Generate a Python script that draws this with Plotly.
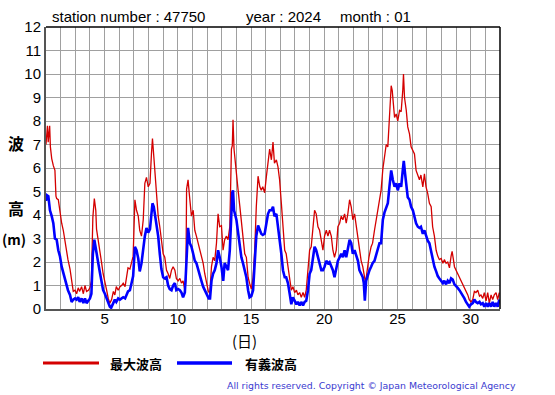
import plotly.graph_objects as go

# ---- data ----
max_days = [1.0, 1.05, 1.1, 1.15, 1.2, 1.25, 1.3, 1.39, 1.5, 1.61, 1.68, 1.73, 1.84, 1.95, 2.07, 2.18, 2.3, 2.4, 2.5, 2.64, 2.75, 2.86, 2.98, 3.09, 3.2, 3.3, 3.43, 3.55, 3.66, 3.77, 3.9, 4.0, 4.1, 4.2, 4.3, 4.4, 4.45, 4.57, 4.68, 4.8, 4.9, 5.0, 5.14, 5.25, 5.36, 5.48, 5.6, 5.7, 5.8, 5.93, 6.05, 6.16, 6.27, 6.4, 6.5, 6.6, 6.73, 6.84, 6.95, 7.07, 7.18, 7.3, 7.4, 7.52, 7.64, 7.75, 7.86, 7.98, 8.1, 8.2, 8.27, 8.36, 8.5, 8.66, 8.77, 8.88, 9.0, 9.11, 9.23, 9.34, 9.45, 9.57, 9.68, 9.8, 9.9, 10.02, 10.14, 10.25, 10.36, 10.48, 10.55, 10.6, 10.7, 10.8, 10.93, 11.05, 11.16, 11.27, 11.39, 11.5, 11.61, 11.73, 11.84, 11.95, 12.07, 12.18, 12.3, 12.41, 12.52, 12.64, 12.75, 12.86, 12.98, 13.09, 13.2, 13.32, 13.43, 13.55, 13.66, 13.72, 13.77, 13.84, 14.0, 14.11, 14.23, 14.34, 14.45, 14.57, 14.68, 14.8, 14.9, 15.02, 15.14, 15.25, 15.36, 15.48, 15.6, 15.7, 15.8, 15.93, 16.05, 16.16, 16.27, 16.39, 16.5, 16.6, 16.73, 16.84, 16.95, 17.07, 17.18, 17.3, 17.4, 17.52, 17.64, 17.75, 17.86, 17.98, 18.1, 18.2, 18.32, 18.43, 18.55, 18.66, 18.77, 18.89, 19.0, 19.11, 19.23, 19.34, 19.45, 19.57, 19.68, 19.8, 19.91, 20.02, 20.14, 20.25, 20.36, 20.48, 20.59, 20.7, 20.82, 20.93, 21.05, 21.16, 21.27, 21.39, 21.5, 21.61, 21.73, 21.84, 21.95, 22.07, 22.18, 22.3, 22.4, 22.52, 22.63, 22.75, 22.82, 22.9, 23.05, 23.2, 23.3, 23.43, 23.55, 23.66, 23.77, 23.88, 24.0, 24.11, 24.23, 24.34, 24.45, 24.57, 24.64, 24.73, 24.8, 24.91, 25.02, 25.14, 25.25, 25.36, 25.41, 25.48, 25.6, 25.7, 25.82, 25.93, 26.05, 26.16, 26.27, 26.39, 26.5, 26.6, 26.73, 26.84, 26.95, 27.07, 27.18, 27.3, 27.4, 27.52, 27.64, 27.75, 27.86, 27.98, 28.1, 28.2, 28.32, 28.43, 28.55, 28.66, 28.73, 28.82, 28.89, 29.0, 29.11, 29.23, 29.34, 29.45, 29.57, 29.68, 29.8, 29.9, 30.02, 30.14, 30.25, 30.36, 30.48, 30.6, 30.7, 30.82, 30.93, 31.05, 31.16, 31.27, 31.39, 31.5, 31.61, 31.73, 31.84, 31.95]
max_wave = [7.0, 7.6, 7.8, 7.1, 7.5, 7.8, 6.9, 6.4, 6.1, 5.9, 4.8, 4.7, 4.65, 4.1, 3.65, 3.35, 2.9, 2.4, 2.1, 1.7, 1.1, 0.75, 0.8, 0.65, 0.9, 0.75, 0.95, 0.65, 1.0, 0.75, 0.8, 0.9, 1.2, 3.9, 4.7, 4.2, 3.4, 2.95, 2.5, 1.95, 1.5, 1.25, 0.8, 0.45, 0.25, 0.4, 0.75, 0.6, 0.95, 0.8, 0.95, 1.0, 1.1, 0.95, 1.4, 1.75, 1.7, 1.95, 2.25, 4.65, 4.2, 3.95, 3.35, 3.1, 3.8, 5.35, 5.6, 5.2, 5.35, 6.6, 7.25, 6.5, 5.2, 3.95, 3.5, 3.0, 2.35, 2.2, 1.65, 1.5, 1.3, 1.65, 1.8, 1.65, 1.3, 1.2, 1.3, 1.1, 1.2, 0.8, 1.2, 5.1, 5.5, 4.8, 3.95, 4.2, 3.35, 3.1, 2.8, 2.5, 2.2, 1.95, 1.5, 1.1, 0.8, 0.65, 1.8, 2.2, 2.05, 2.8, 4.05, 3.5, 3.55, 2.5, 2.95, 3.1, 2.95, 3.5, 6.8, 6.95, 8.05, 6.8, 5.95, 5.1, 4.4, 3.8, 3.1, 2.35, 2.2, 1.35, 1.1, 0.85, 1.35, 2.5, 4.35, 5.65, 5.2, 5.05, 5.2, 4.95, 5.65, 6.35, 6.8, 6.35, 7.1, 6.2, 6.35, 6.05, 5.5, 4.5, 3.5, 2.5, 2.35, 1.8, 1.35, 0.8, 0.95, 0.7, 0.8, 0.6, 0.7, 0.5, 0.7, 0.5, 0.8, 1.65, 2.5, 2.65, 3.5, 4.2, 4.05, 3.5, 3.35, 2.8, 2.5, 3.1, 3.35, 3.1, 3.35, 3.1, 2.5, 2.2, 2.5, 3.5, 3.65, 3.95, 3.8, 4.05, 3.65, 4.05, 4.65, 4.35, 3.8, 4.05, 3.5, 2.95, 2.5, 2.05, 1.8, 1.35, 1.1, 1.5, 2.2, 2.65, 2.8, 3.35, 3.8, 4.35, 4.65, 5.05, 5.95, 6.45, 7.0, 6.9, 8.15, 9.5, 9.3, 8.45, 8.15, 8.3, 8.0, 8.45, 8.4, 9.3, 10.0, 9.0, 8.45, 7.75, 7.45, 6.9, 6.75, 6.6, 5.9, 5.7, 5.5, 5.7, 5.2, 5.75, 5.2, 4.9, 4.5, 4.35, 3.5, 3.1, 2.5, 2.25, 2.1, 2.15, 1.95, 2.1, 1.95, 2.0, 1.75, 2.25, 2.45, 2.1, 1.8, 1.65, 1.5, 1.4, 1.25, 1.1, 0.95, 0.8, 0.6, 0.4, 0.3, 0.4, 0.75, 0.7, 0.8, 0.55, 0.6, 0.45, 0.7, 0.35, 0.7, 0.25, 0.6, 0.4, 0.6, 0.7, 0.4, 0.7]

sig_days = [1.0, 1.05, 1.16, 1.27, 1.39, 1.5, 1.61, 1.73, 1.84, 1.95, 2.07, 2.18, 2.3, 2.4, 2.5, 2.64, 2.75, 2.86, 2.98, 3.09, 3.2, 3.3, 3.43, 3.55, 3.66, 3.77, 3.9, 4.0, 4.1, 4.2, 4.3, 4.4, 4.57, 4.68, 4.8, 4.9, 5.02, 5.14, 5.25, 5.36, 5.45, 5.6, 5.7, 5.8, 5.93, 6.05, 6.16, 6.27, 6.4, 6.5, 6.6, 6.73, 6.84, 6.95, 7.07, 7.18, 7.3, 7.4, 7.52, 7.64, 7.75, 7.86, 7.98, 8.1, 8.2, 8.27, 8.36, 8.5, 8.66, 8.77, 8.88, 9.0, 9.11, 9.23, 9.34, 9.45, 9.57, 9.68, 9.8, 9.9, 10.02, 10.14, 10.25, 10.36, 10.48, 10.55, 10.64, 10.7, 10.82, 10.93, 11.05, 11.16, 11.27, 11.39, 11.5, 11.61, 11.73, 11.84, 12.0, 12.11, 12.2, 12.3, 12.41, 12.52, 12.64, 12.75, 12.86, 12.98, 13.1, 13.2, 13.32, 13.43, 13.55, 13.66, 13.72, 13.77, 13.84, 14.0, 14.11, 14.23, 14.34, 14.45, 14.57, 14.68, 14.8, 14.9, 15.02, 15.14, 15.25, 15.36, 15.48, 15.6, 15.7, 15.8, 15.93, 16.05, 16.16, 16.27, 16.39, 16.5, 16.6, 16.73, 16.84, 16.95, 17.07, 17.18, 17.3, 17.4, 17.52, 17.64, 17.75, 17.86, 17.98, 18.1, 18.2, 18.32, 18.43, 18.55, 18.66, 18.77, 18.89, 19.0, 19.11, 19.23, 19.34, 19.45, 19.57, 19.68, 19.8, 19.91, 20.02, 20.14, 20.25, 20.36, 20.48, 20.59, 20.7, 20.82, 20.93, 21.05, 21.16, 21.27, 21.39, 21.5, 21.61, 21.73, 21.84, 21.95, 22.07, 22.2, 22.3, 22.4, 22.52, 22.63, 22.7, 22.77, 22.86, 22.98, 23.09, 23.2, 23.3, 23.43, 23.55, 23.66, 23.77, 23.88, 24.0, 24.11, 24.23, 24.34, 24.45, 24.57, 24.68, 24.8, 24.91, 25.02, 25.14, 25.25, 25.36, 25.43, 25.52, 25.6, 25.7, 25.82, 25.93, 26.05, 26.16, 26.27, 26.39, 26.5, 26.6, 26.73, 26.84, 26.95, 27.07, 27.18, 27.3, 27.4, 27.52, 27.64, 27.75, 27.86, 27.98, 28.1, 28.2, 28.32, 28.43, 28.55, 28.66, 28.77, 28.89, 29.0, 29.11, 29.23, 29.34, 29.45, 29.57, 29.68, 29.8, 29.9, 30.02, 30.14, 30.25, 30.36, 30.48, 30.6, 30.7, 30.82, 30.93, 31.05, 31.16, 31.27, 31.39, 31.5, 31.61, 31.73, 31.84, 31.95]
sig_wave = [4.6, 4.85, 4.8, 4.2, 3.95, 3.65, 3.0, 2.95, 2.5, 2.25, 1.8, 1.55, 1.25, 1.1, 0.8, 0.6, 0.3, 0.4, 0.45, 0.4, 0.5, 0.3, 0.45, 0.25, 0.45, 0.25, 0.4, 0.45, 0.65, 2.35, 2.95, 2.5, 1.95, 1.55, 1.2, 0.8, 0.65, 0.45, 0.25, 0.1, 0.05, 0.25, 0.4, 0.3, 0.45, 0.4, 0.45, 0.5, 0.45, 0.6, 0.75, 0.8, 1.1, 1.4, 2.65, 2.5, 2.15, 1.6, 1.95, 2.65, 3.1, 3.45, 3.25, 3.4, 4.2, 4.5, 4.35, 3.8, 3.1, 2.35, 1.7, 1.35, 1.3, 1.35, 1.0, 0.85, 0.8, 1.0, 1.1, 0.8, 0.85, 0.8, 0.7, 0.5, 0.7, 1.5, 3.2, 3.45, 2.8, 2.65, 2.35, 2.05, 1.95, 1.65, 1.5, 1.2, 0.95, 0.8, 0.6, 0.45, 0.45, 1.2, 1.5, 1.65, 1.95, 2.5, 2.2, 1.8, 1.2, 1.95, 1.8, 1.65, 2.5, 4.35, 4.95, 5.05, 4.2, 3.8, 3.2, 2.8, 2.2, 1.95, 1.65, 1.35, 0.8, 0.5, 0.55, 0.8, 1.95, 3.1, 3.55, 3.35, 3.2, 3.15, 3.2, 3.65, 4.05, 4.2, 4.2, 4.35, 3.95, 4.05, 3.5, 3.1, 2.35, 1.65, 1.35, 1.35, 1.1, 0.65, 0.2, 0.5, 0.35, 0.2, 0.3, 0.15, 0.3, 0.15, 0.3, 0.35, 0.8, 1.5, 1.65, 2.2, 2.65, 2.5, 2.2, 2.05, 1.65, 1.65, 1.8, 2.05, 1.95, 2.0, 1.8, 1.65, 1.35, 1.65, 2.05, 2.2, 2.35, 2.2, 2.5, 2.2, 2.5, 2.95, 2.8, 2.35, 2.5, 2.2, 2.05, 1.65, 1.5, 1.35, 1.1, 0.35, 1.2, 1.5, 1.65, 1.8, 1.95, 2.05, 2.35, 2.65, 2.8, 2.8, 3.8, 4.1, 4.35, 4.5, 5.2, 5.9, 5.5, 5.2, 5.35, 5.05, 5.35, 5.2, 5.9, 6.3, 5.75, 5.2, 4.75, 4.65, 4.35, 4.2, 3.9, 3.65, 3.5, 3.45, 3.5, 3.2, 3.35, 3.1, 2.9, 2.8, 2.4, 2.1, 1.8, 1.6, 1.4, 1.3, 1.2, 1.1, 1.2, 1.05, 1.2, 1.1, 1.3, 1.25, 1.05, 0.95, 0.9, 0.8, 0.7, 0.6, 0.45, 0.3, 0.2, 0.1, 0.2, 0.25, 0.4, 0.3, 0.25, 0.3, 0.2, 0.25, 0.1, 0.25, 0.1, 0.25, 0.1, 0.3, 0.1, 0.25, 0.1, 0.4]

x_tick_vals = list(range(1, 33))
x_tick_text = ["5" if v == 5 else "10" if v == 10 else "15" if v == 15 else "20" if v == 20
               else "25" if v == 25 else "30" if v == 30 else "" for v in x_tick_vals]
y_tick_vals = list(range(0, 13))
y_tick_text = [str(v) for v in y_tick_vals]

series_names = ["最大波高", "有義波高"]
header_parts = ["station number : 47750", "year : 2024", "month : 01"]
copyright_text = "All rights reserved. Copyright © Japan Meteorological Agency"

W, H = 555, 395
L, R, T, B = 46, 500, 27, 309


def px(x):
    return (x - L) / (R - L)


def py(y):
    return (B - y) / (B - T)


fig = go.Figure()
fig.add_trace(go.Scatter(x=max_days, y=max_wave, mode="lines", name=series_names[0],
                         line=dict(color="#d40000", width=1.3), showlegend=False))
fig.add_trace(go.Scatter(x=sig_days, y=sig_wave, mode="lines", name=series_names[1],
                         line=dict(color="#0000ff", width=2.6), showlegend=False))

sans = "Liberation Sans, Arial, sans-serif"
cjk = "Noto Sans CJK JP"

fig.update_layout(
    width=W, height=H,
    margin=dict(l=L, r=W - R, t=T, b=H - B, pad=0, autoexpand=False),
    paper_bgcolor="white", plot_bgcolor="white",
    xaxis=dict(range=[1, 32], tickvals=x_tick_vals, ticktext=x_tick_text,
               showgrid=True, gridcolor="#a0a0a0", gridwidth=1,
               showline=True, linecolor="#555555", linewidth=2, mirror=False,
               ticks="", zeroline=False, automargin=False, ticklabelstandoff=-5,
               tickfont=dict(family=sans, size=15, color="black")),
    yaxis=dict(range=[0, 12], tickvals=y_tick_vals, ticktext=y_tick_text,
               showgrid=True, gridcolor="#a0a0a0", gridwidth=1,
               showline=True, linecolor="#555555", linewidth=2, mirror=False,
               ticks="", zeroline=False, automargin=False,
               tickfont=dict(family=sans, size=15, color="black")),
    showlegend=False,
)

shapes = [
    dict(type="line", xref="paper", yref="paper", x0=0, x1=1, y0=1, y1=1,
         line=dict(color="black", width=1.5)),
    dict(type="line", xref="paper", yref="paper", x0=1, x1=1, y0=0, y1=1,
         line=dict(color="black", width=1.5)),
    dict(type="line", xref="paper", yref="paper", x0=px(43), x1=px(99), y0=py(363), y1=py(363),
         line=dict(color="#d40000", width=3)),
    dict(type="line", xref="paper", yref="paper", x0=px(177), x1=px(232), y0=py(363), y1=py(363),
         line=dict(color="#0000ff", width=3.5)),
]
fig.update_layout(shapes=shapes)

ann = []
ann.append(dict(text=header_parts[0], x=px(50), y=py(16), xanchor="left", yanchor="middle"))
ann.append(dict(text=header_parts[1], x=px(244), y=py(16), xanchor="left", yanchor="middle"))
ann.append(dict(text=header_parts[2], x=px(338), y=py(16), xanchor="left", yanchor="middle"))
for a in ann:
    a.update(xref="paper", yref="paper", showarrow=False, font=dict(family=sans, size=15, color="black"))

cj = dict(xref="paper", yref="paper", showarrow=False, xanchor="center", yanchor="middle")
ann.append(dict(text="<b>波</b>", x=px(16), y=py(143), font=dict(family=cjk, size=16, color="black"), **cj))
ann.append(dict(text="<b>高</b>", x=px(16), y=py(208), font=dict(family=cjk, size=16, color="black"), **cj))
ann.append(dict(text="<b>(m)</b>", x=px(14), y=py(239), font=dict(family=cjk, size=14, color="black"), **cj))
ann.append(dict(text="(日)", x=px(244), y=py(340), font=dict(family=cjk, size=15, color="black"), **cj))
ann.append(dict(text="<b>" + series_names[0] + "</b>", x=px(108), y=py(363), xanchor="left", yanchor="middle",
                xref="paper", yref="paper", showarrow=False, font=dict(family=cjk, size=13, color="black")))
ann.append(dict(text="<b>" + series_names[1] + "</b>", x=px(243), y=py(363), xanchor="left", yanchor="middle",
                xref="paper", yref="paper", showarrow=False, font=dict(family=cjk, size=13, color="black")))
ann.append(dict(text=copyright_text, x=px(518), y=py(385), xanchor="right", yanchor="middle",
                xref="paper", yref="paper", showarrow=False,
                font=dict(family="DejaVu Sans", size=9.4, color="#3a3ad0")))
fig.update_layout(annotations=ann)

fig.write_html("out.html", config={"displayModeBar": False},
               post_script="document.body.style.margin='0';document.body.style.padding='0';"
                           "document.documentElement.style.overflow='hidden';")
